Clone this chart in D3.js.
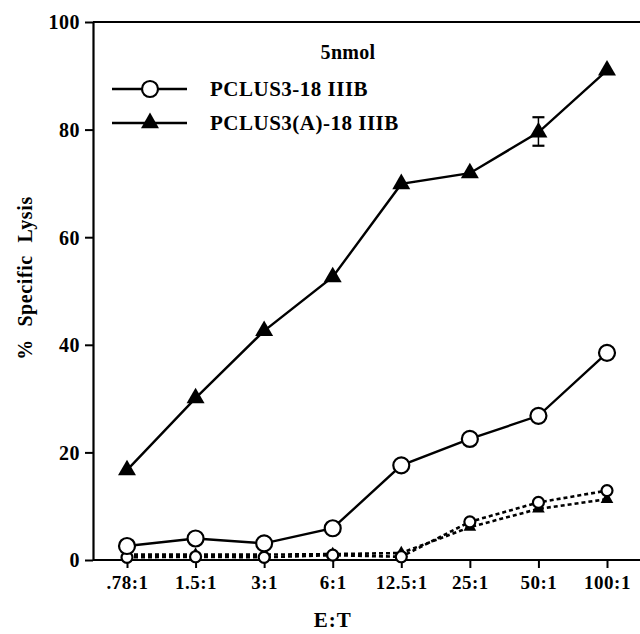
<!DOCTYPE html>
<html>
<head>
<meta charset="utf-8">
<script src="https://cdn.jsdelivr.net/npm/d3@7"></script>
<style>
  html, body { margin: 0; padding: 0; background: #fff; }
  svg { display: block; }
  text { font-family: "Liberation Serif", "Times New Roman", serif; font-weight: bold; fill: #000; }
</style>
</head>
<body>
<svg id="chart" width="640" height="634"></svg>
<script>
// ---- data ----
const categories = [".78:1", "1.5:1", "3:1", "6:1", "12.5:1", "25:1", "50:1", "100:1"];
const yTicks = [0, 20, 40, 60, 80, 100];
// solid lines
const pclus3Solid   = [2.6, 4.0, 3.1, 5.9, 17.6, 22.5, 26.8, 38.5];
const pclus3ASolid  = [16.7, 30.1, 42.6, 52.6, 69.9, 71.9, 79.5, 91.0];
// dotted lines (controls)
const pclus3Dotted  = [0.5, 0.6, 0.5, 0.9, 0.6, 7.1, 10.7, 12.9];
const pclus3ADotted = [1.0, 1.0, 1.0, 1.1, 1.3, 6.1, 9.5, 11.3];
// error bar on PCLUS3(A) solid series at 50:1
const errorBars = [{ cat: "50:1", lo: 77.0, hi: 82.3 }];
const legendTitle = "5nmol";
const legendLabels = ["PCLUS3-18 IIIB", "PCLUS3(A)-18 IIIB"];
const xTitle = "E:T";
const yTitle = "% Specific Lysis";

// ---- scales ----
const svg = d3.select("#chart");
const x = d3.scalePoint().domain(categories).range([127, 607]);
const y = d3.scaleLinear().domain([0, 100]).range([560, 22]);
const axisLeftX = 93;

// axes
const yAxis = svg.append("g").attr("transform", `translate(${axisLeftX},0)`)
  .call(d3.axisLeft(y).tickValues(yTicks).tickSize(8).tickPadding(5).tickSizeOuter(0));
yAxis.select(".domain").attr("stroke-width", 2.2);
yAxis.selectAll(".tick line").attr("stroke-width", 2);
yAxis.selectAll(".tick text").style("font-size", "20px").attr("dy", "0.34em")
  .style("font-family", '"Liberation Serif", serif').style("font-weight", "bold")
  .style("letter-spacing", "0.5px");

const xAxis = svg.append("g").attr("transform", `translate(0,${y(0)})`)
  .call(d3.axisBottom(x).tickSize(8).tickPadding(8).tickSizeOuter(0));
xAxis.select(".domain").attr("d", `M${axisLeftX},0H640`).attr("stroke-width", 2.2);
xAxis.selectAll(".tick line").attr("stroke-width", 2);
xAxis.selectAll(".tick text").style("font-size", "19px")
  .style("font-family", '"Liberation Serif", serif').style("font-weight", "bold")
  .style("letter-spacing", "0.5px");

// top frame line
svg.append("line").attr("x1", axisLeftX).attr("x2", 640)
  .attr("y1", y(100)).attr("y2", y(100)).attr("stroke", "#000").attr("stroke-width", 2.2);

// axis titles
svg.append("text").attr("x", x("6:1")).attr("y", 627).attr("text-anchor", "middle")
  .style("font-size", "21px").style("letter-spacing", "1px").text(xTitle);
svg.append("text").attr("transform", `translate(32,278) rotate(-90)`)
  .attr("text-anchor", "middle").style("font-size", "20px")
  .style("word-spacing", "7px").style("letter-spacing", "0.6px").text(yTitle);

const line = d3.line().x((d, i) => x(categories[i])).y(d => y(d));
const tri = (size) => d3.symbol().type(d3.symbolTriangle).size(size)();

function drawLine(vals, dashed) {
  svg.append("path").datum(vals).attr("d", line).attr("fill", "none")
    .attr("stroke", "#000").attr("stroke-width", dashed ? 2.6 : 2.4)
    .attr("stroke-dasharray", dashed ? "4,3" : null);
}
function drawTriangles(vals, size) {
  svg.append("g").selectAll("path").data(vals).join("path")
    .attr("transform", (d, i) => `translate(${x(categories[i])},${y(d)})`)
    .attr("d", tri(size)).attr("fill", "#000");
}
function drawCircles(vals, r) {
  svg.append("g").selectAll("circle").data(vals).join("circle")
    .attr("cx", (d, i) => x(categories[i])).attr("cy", d => y(d)).attr("r", r)
    .attr("fill", "#fff").attr("stroke", "#000").attr("stroke-width", 2.2);
}

// dotted controls
drawLine(pclus3ADotted, true);
drawLine(pclus3Dotted, true);
drawTriangles(pclus3ADotted, 70);
drawCircles(pclus3Dotted, 5.5);

// solid series
drawLine(pclus3ASolid, false);
drawLine(pclus3Solid, false);

// error bars
errorBars.forEach(e => {
  const cx = x(e.cat);
  svg.append("line").attr("x1", cx).attr("x2", cx).attr("y1", y(e.hi)).attr("y2", y(e.lo))
    .attr("stroke", "#000").attr("stroke-width", 1.5);
  [e.hi, e.lo].forEach(v => svg.append("line").attr("x1", cx - 6).attr("x2", cx + 6)
    .attr("y1", y(v)).attr("y2", y(v)).attr("stroke", "#000").attr("stroke-width", 2.2));
});

drawTriangles(pclus3ASolid, 140);
drawCircles(pclus3Solid, 8);

// legend
svg.append("text").attr("x", 348).attr("y", 59).attr("text-anchor", "middle")
  .style("font-size", "20px").style("letter-spacing", "0.3px").text(legendTitle);
const legY = [89, 123];
legY.forEach((ly, i) => {
  svg.append("line").attr("x1", 112).attr("x2", 187).attr("y1", ly).attr("y2", ly)
    .attr("stroke", "#000").attr("stroke-width", 2.4);
  if (i === 0) {
    svg.append("circle").attr("cx", 150).attr("cy", ly).attr("r", 8)
      .attr("fill", "#fff").attr("stroke", "#000").attr("stroke-width", 2.2);
  } else {
    svg.append("path").attr("transform", `translate(150,${ly})`).attr("d", tri(140)).attr("fill", "#000");
  }
  svg.append("text").attr("x", 210).attr("y", ly + 7).style("font-size", "21px")
    .style("letter-spacing", "0.5px").text(legendLabels[i]);
});
</script>
</body>
</html>
